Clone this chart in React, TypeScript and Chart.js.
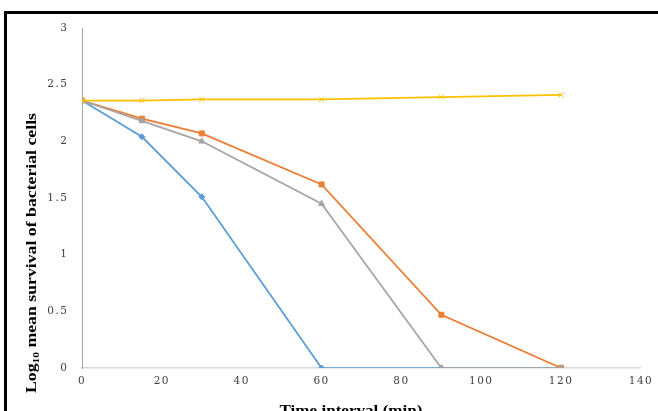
import React, { useEffect, useRef } from "react";
import { Chart, registerables } from "chart.js";

Chart.register(...registerables);

const times = [0, 15, 30, 60, 90, 120];
const seriesBlue = [2.36, 2.04, 1.51, 0, 0, 0];
const seriesOrange = [2.36, 2.2, 2.07, 1.62, 0.47, 0];
const seriesGray = [2.36, 2.18, 2.0, 1.45, 0, 0];
const seriesYellow = [2.36, 2.36, 2.37, 2.37, 2.39, 2.41];
const xTicks = [0, 20, 40, 60, 80, 100, 120, 140];
const yTicks = [0, 0.5, 1, 1.5, 2, 2.5, 3];
const xTitle = "Time interval (min)";
const yTitleMain = "Log";
const yTitleSub = "10";
const yTitleRest = " mean survival of bacterial cells";

const W = 658;
const H = 425;

function pts(vals: number[]) {
  return vals.map((v, i) => ({ x: times[i], y: v }));
}

const titlePlugin = {
  id: "customTitles",
  beforeDraw(chart: any) {
    (chart.ctx as any).letterSpacing = "1.5px";
  },
  afterDraw(chart: any) {
    const ctx = chart.ctx as CanvasRenderingContext2D;
    ctx.save();
    (ctx as any).letterSpacing = "0px";
    ctx.fillStyle = "#000";
    // x title
    ctx.font = "bold 14px 'Liberation Serif'";
    ctx.textAlign = "left";
    ctx.textBaseline = "alphabetic";
    const xw = ctx.measureText(xTitle).width;
    const targetX = 143;
    ctx.save();
    ctx.translate(351 - targetX / 2, 415);
    ctx.scale(targetX / xw, 1);
    ctx.fillText(xTitle, 0, 0);
    ctx.restore();
    // y title
    const mainFont = "bold 14px 'Liberation Serif'";
    const subFont = "bold 9px 'Liberation Serif'";
    ctx.font = mainFont;
    const w1 = ctx.measureText(yTitleMain).width;
    const w3 = ctx.measureText(yTitleRest).width;
    ctx.font = subFont;
    const w2 = ctx.measureText(yTitleSub).width;
    const total = w1 + w2 + w3;
    const targetY = 280;
    ctx.save();
    ctx.translate(36, 253);
    ctx.rotate(-Math.PI / 2);
    ctx.scale(targetY / total, 1);
    let x = -total / 2;
    ctx.font = mainFont;
    ctx.fillText(yTitleMain, x, 0);
    x += w1;
    ctx.font = subFont;
    ctx.fillText(yTitleSub, x, 3);
    x += w2;
    ctx.font = mainFont;
    ctx.fillText(yTitleRest, x, 0);
    ctx.restore();
    ctx.restore();
  },
};

export default function App() {
  const ref = useRef<HTMLCanvasElement | null>(null);
  useEffect(() => {
    if (!ref.current) return;
    const mk = (label: string, data: number[], color: string, style: any, radius: number, order: number) => ({
      label,
      data: pts(data),
      borderColor: color,
      backgroundColor: color,
      pointBackgroundColor: color,
      pointBorderColor: color,
      pointStyle: style,
      pointRadius: radius,
      borderWidth: 1.75,
      pointBorderWidth: 1,
      order,
      tension: 0,
      showLine: true,
    });
    const chart = new Chart(ref.current, {
      type: "scatter",
      data: {
        datasets: [
          mk("Series 1", seriesBlue, "#5B9BD5", "rectRot", 3, 3),
          mk("Series 2", seriesOrange, "#ED7D31", "rect", 3.5, 2),
          mk("Series 3", seriesGray, "#A5A5A5", "triangle", 3.5, 1),
          mk("Series 4", seriesYellow, "#FFC000", "crossRot", 3.5, 0),
        ] as any,
      },
      options: {
        responsive: false,
        animation: false,
        devicePixelRatio: 1,
        layout: { padding: { left: 0, right: 16, top: 28, bottom: 0 } },
        plugins: { legend: { display: false }, tooltip: { enabled: false } },
        scales: {
          x: {
            type: "linear",
            min: xTicks[0],
            max: xTicks[xTicks.length - 1],
            afterBuildTicks: (s: any) => {
              s.ticks = xTicks.map((v) => ({ value: v }));
            },
            ticks: {
              color: "#404040",
              font: { family: "'DejaVu Serif'", size: 10.5 },
              padding: 7,
              maxRotation: 0,
              autoSkip: false,
              callback: (v: any) => String(v),
            },
            grid: { display: false, drawTicks: false },
            border: { display: true, color: "#D9D9D9", width: 1.5 },
            afterFit: (s: any) => {
              s.height = H - 368;
            },
          },
          y: {
            type: "linear",
            min: yTicks[0],
            max: yTicks[yTicks.length - 1],
            afterBuildTicks: (s: any) => {
              s.ticks = yTicks.map((v) => ({ value: v }));
            },
            ticks: {
              color: "#404040",
              font: { family: "'DejaVu Serif'", size: 10.5 },
              padding: 13.5,
              autoSkip: false,
              callback: (v: any) => String(v),
            },
            grid: { display: false, drawTicks: false },
            border: { display: true, color: "#A6A6A6", width: 1 },
            afterFit: (s: any) => {
              s.width = 82;
            },
          },
        },
      },
      plugins: [titlePlugin],
    });
    return () => chart.destroy();
  }, []);
  return (
    <div style={{ position: "fixed", left: 0, top: 0, width: 658, height: 411, overflow: "hidden", background: "#fff" }}>
      <div
        style={{
          position: "absolute",
          left: 4,
          top: 11,
          width: 700,
          height: 460,
          borderLeft: "3px solid #000",
          borderTop: "3px solid #000",
        }}
      />
      <canvas ref={ref} width={W} height={H} style={{ position: "absolute", left: 0, top: 0, width: W, height: H }} />
    </div>
  );
}
